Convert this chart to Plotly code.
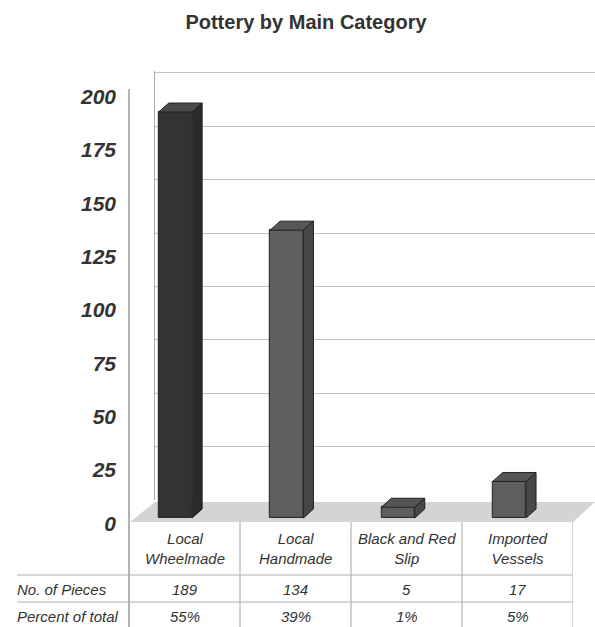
import plotly.graph_objects as go

# ---------------- data ----------------
categories = ["Local<br>Wheelmade", "Local<br>Handmade", "Black and Red<br>Slip", "Imported<br>Vessels"]
pieces = [189, 134, 5, 17]
percent_labels = ["55%", "39%", "1%", "5%"]
row_labels = ["No. of Pieces", "Percent of total"]
y_ticks = [0, 25, 50, 75, 100, 125, 150, 175, 200]
title_text = "Pottery by Main Category"

# ---------------- styling ----------------
W, H = 595, 627
FONT = "Arial, Liberation Sans, sans-serif"
TXT = "#333333"
front_colors = ["#333333", "#5e5e5e", "#5e5e5e", "#5e5e5e"]
top_colors = ["#4a4a4a", "#555555", "#555555", "#555555"]
side_colors = ["#2a2a2a", "#474747", "#474747", "#474747"]
EDGE = "#222222"


def fx(px):
    return px / W


def fy(py):
    return 1 - py / H


# bar subplot geometry (pixels)
bx0, bx1 = 119.8, 565.0          # x3 domain
b_zero, b_scale = 518.0, 2.148   # y3: pixel of 0, pixels per unit
y3_range = [-10, 210]
x_unit = (bx1 - bx0) / 4.0
half_w = 0.15
dx = 10.0 / x_unit
dy = 9.0 / b_scale

# back wall geometry (pixels)
w_zero, w_scale = 500.0, 2.135
y2_range = [0, 201]

fig = go.Figure()

# invisible anchors for helper subplots
fig.add_trace(go.Scatter(x=[0], y=[0], xaxis="x", yaxis="y", mode="markers",
                         marker=dict(opacity=0), hoverinfo="skip", showlegend=False))
fig.add_trace(go.Scatter(x=[0], y=[0], xaxis="x2", yaxis="y2", mode="markers",
                         marker=dict(opacity=0), hoverinfo="skip", showlegend=False))

# front faces of bars
idx = list(range(len(pieces)))
fig.add_trace(go.Bar(x=idx, y=pieces, width=2 * half_w, xaxis="x3", yaxis="y3",
                     marker=dict(color=front_colors, line=dict(color=EDGE, width=1)),
                     hoverinfo="skip", showlegend=False))

# 3D top and side faces derived from the values
for i, v in zip(idx, pieces):
    xl, xr = i - half_w, i + half_w
    fig.add_trace(go.Scatter(
        x=[xl, xl + dx, xr + dx, xr, xl], y=[v, v + dy, v + dy, v, v],
        xaxis="x3", yaxis="y3", mode="lines", fill="toself",
        fillcolor=top_colors[i], line=dict(color=EDGE, width=1),
        hoverinfo="skip", showlegend=False))
    fig.add_trace(go.Scatter(
        x=[xr, xr, xr + dx, xr + dx, xr], y=[0, v, v + dy, dy, 0],
        xaxis="x3", yaxis="y3", mode="lines", fill="toself",
        fillcolor=side_colors[i], line=dict(color=EDGE, width=1),
        hoverinfo="skip", showlegend=False))

# ---------------- shapes ----------------
shapes = []
# floor
floor_pts = [(130, 522), (155, 502), (595, 502), (573, 522)]
path = "M " + " L ".join(f"{fx(a):.5f},{fy(b):.5f}" for a, b in floor_pts) + " Z"
shapes.append(dict(type="path", path=path, xref="paper", yref="paper",
                   fillcolor="#d4d4d4", line=dict(width=0), layer="below"))
# front value axis line / table left border
shapes.append(dict(type="line", xref="paper", yref="paper", x0=fx(129), x1=fx(129),
                   y0=fy(89), y1=fy(627), line=dict(color="#9a9a9a", width=1.5)))
# table column separators
for k in range(1, len(categories) + 1):
    shapes.append(dict(type="line", xref="x", yref="paper", x0=k, x1=k,
                       y0=fy(522), y1=fy(627), line=dict(color="#a8a8a8", width=1)))
# table row separators
for yy in (575, 602):
    shapes.append(dict(type="line", xref="paper", yref="paper", x0=fx(17), x1=fx(573),
                       y0=fy(yy), y1=fy(yy), line=dict(color="#b0b0b0", width=1)))

# ---------------- annotations (table text) ----------------
ann = []
cell_font = dict(family=FONT, size=15, color=TXT, style="italic")
for i, c in enumerate(categories):
    ann.append(dict(x=i + 0.5, y=fy(548), xref="x", yref="paper", text=c,
                    showarrow=False, font=cell_font, xanchor="center", yanchor="middle"))
    ann.append(dict(x=i + 0.5, y=fy(589), xref="x", yref="paper", text=str(pieces[i]),
                    showarrow=False, font=cell_font, xanchor="center", yanchor="middle"))
    ann.append(dict(x=i + 0.5, y=fy(616), xref="x", yref="paper", text=percent_labels[i],
                    showarrow=False, font=cell_font, xanchor="center", yanchor="middle"))
for lab, yy in zip(row_labels, (589, 616)):
    ann.append(dict(x=fx(15), y=fy(yy), xref="paper", yref="paper", text=lab,
                    showarrow=False, font=cell_font, xanchor="left", yanchor="middle"))

fig.update_layout(
    width=W, height=H,
    margin=dict(l=0, r=0, t=0, b=0, pad=0, autoexpand=False),
    paper_bgcolor="white", plot_bgcolor="rgba(0,0,0,0)",
    showlegend=False,
    title=dict(text=title_text, x=fx(306), y=fy(22), xanchor="center", yanchor="middle",
               automargin=False,
               font=dict(family=FONT, size=20, color=TXT, weight="bold")),
    # front axis (labels)
    xaxis=dict(domain=[fx(129), fx(573)], range=[0, 4], visible=False, fixedrange=True,
               automargin=False),
    yaxis=dict(domain=[fy(523.5), fy(96.5)], range=[0, 200], anchor="x",
               tickvals=y_ticks, ticktext=[str(t) for t in y_ticks],
               tickfont=dict(family=FONT, size=21, color=TXT, weight="bold", style="italic"),
               showgrid=False, zeroline=False, showline=False, ticks="",
               ticklabelstandoff=12, fixedrange=True, automargin=False),
    # back wall grid
    xaxis2=dict(domain=[fx(155), 1], range=[0, 1], visible=False, anchor="y2", fixedrange=True,
                automargin=False),
    yaxis2=dict(domain=[fy(w_zero - y2_range[0] * w_scale), fy(w_zero - y2_range[1] * w_scale)],
                range=y2_range, anchor="x2",
                tickvals=y_ticks, showticklabels=False, showgrid=True,
                gridcolor="#c4c4c4", gridwidth=1, zeroline=False, automargin=False,
                showline=True, linecolor="#a8a8a8", linewidth=1, ticks="", fixedrange=True),
    # bars
    xaxis3=dict(domain=[fx(bx0), fx(bx1)], range=[-0.5, 3.5], visible=False,
                anchor="y3", fixedrange=True, automargin=False),
    yaxis3=dict(domain=[fy(b_zero - y3_range[0] * b_scale), fy(b_zero - y3_range[1] * b_scale)],
                range=y3_range, visible=False, anchor="x3", fixedrange=True, automargin=False),
    shapes=shapes,
    annotations=ann,
    bargap=0,
)

fig.write_html("out.html")
